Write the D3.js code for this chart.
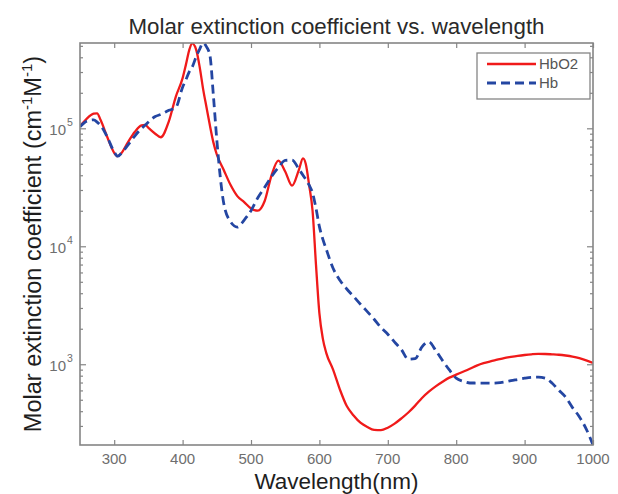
<!DOCTYPE html>
<html>
<head>
<meta charset="utf-8">
<script src="https://cdn.jsdelivr.net/npm/d3@7"></script>
<style>
  body { margin: 0; background: #fff; }
  svg { display: block; font-family: "Liberation Sans", Arial, sans-serif; }
</style>
</head>
<body>
<svg id="chart" width="618" height="494"></svg>
<script>
// wavelengths (nm) shared by both series
var wavelength = [250,260,270,275,280,290,300,305,310,320,330,340,345,350,360,368,380,390,400,405,410,414,420,425,430,435,440,445,450,460,470,480,490,500,510,520,530,540,550,560,570,576,580,585,590,595,600,605,610,620,630,640,650,660,670,680,690,700,710,720,730,740,750,760,770,780,790,800,810,820,830,840,850,860,870,880,890,900,910,920,930,940,950,960,970,980,990,1000];

// HbO2 molar extinction (cm-1 M-1)
var hbo2 = [104000,121000,133000,134000,118000,84000,62000,58000,61000,76000,93000,106000,107000,101000,90000,84000,115000,185000,266232,350000,466816,524280,460000,330000,215000,150000,105000,76000,60000,44480,33209,26629,23684,20932,20035,24202,39956,53236,43016,32613,44496,55540,50104,33000,20000,7000,2700,1650,1250,900,610,442,368,319.6,294,277.6,276,290,314,348,390,446,518,586,650,710,770,816,864,916,974,1022,1058,1092,1128,1154,1178,1198,1214,1224,1222,1214,1204,1186,1162,1128,1080,1024];

// Hb molar extinction (cm-1 M-1)
var hb = [103000,115000,118000,113000,106000,84000,63000,58000,61000,72000,86000,100000,106000,113000,126000,131000,142000,150000,223296,260000,303956,330000,407560,470000,528600,490000,413280,190000,80000,23388.8,16156.4,14550,16684,20035.2,25773.6,31589.6,39036.4,46592,53412,53788,45072,40000,37020,33000,28324.4,21000,14677.2,11500,9443.6,6509.6,5148.8,4345.2,3750.12,3226.56,2795.12,2407.92,2051.96,1794.28,1540.48,1325.88,1102.2,1115.88,1405.24,1548.52,1311.88,1075.44,894.56,761.72,717.08,693.76,693.04,692.36,691.32,694.32,705.84,726.44,743.6,761.84,774.56,777.36,763.84,693.44,602.24,525.56,429.32,359.656,283.22,206.784];

var xTicks = [300,400,500,600,700,800,900,1000];
var yMajor = [1000,10000,100000];
var yExp = ["3","4","5"];
var yMinor = [300,400,500,600,700,800,900,2000,3000,4000,5000,6000,7000,8000,9000,
              20000,30000,40000,50000,60000,70000,80000,90000,200000,300000,400000,500000];
var seriesNames = ["HbO2","Hb"];

var svg = d3.select("#chart");
var pLeft = 80, pRight = 593, pTop = 43, pBottom = 445;
var axisColor = "#858585";

var x = d3.scaleLinear().domain([250,1000]).range([pLeft,pRight]);
var y = d3.scaleLog().domain([206.784,528600]).range([pBottom,pTop]);

// title
svg.append("text")
  .attr("x",(pLeft+pRight)/2).attr("y",34)
  .attr("text-anchor","middle")
  .attr("font-size","22.3px")
  .attr("fill","#2a2a2a")
  .text("Molar extinction coefficient vs. wavelength");

// clip for curves
svg.append("defs").append("clipPath").attr("id","plotclip")
  .append("rect").attr("x",pLeft).attr("y",pTop).attr("width",pRight-pLeft).attr("height",pBottom-pTop);

var redData = wavelength.map(function(w,i){ return [w,hbo2[i]]; });
var blueData = wavelength.map(function(w,i){ return [w,hb[i]]; });

var line = d3.line()
  .x(function(d){ return x(d[0]); })
  .y(function(d){ return y(d[1]); })
  .curve(d3.curveMonotoneX);

var plots = svg.append("g").attr("clip-path","url(#plotclip)");
plots.append("path").datum(redData)
  .attr("d",line).attr("fill","none")
  .attr("stroke","#f01a1a").attr("stroke-width",2.3);
plots.append("path").datum(blueData)
  .attr("d",line).attr("fill","none")
  .attr("stroke","#2446a2").attr("stroke-width",2.8)
  .attr("stroke-dasharray","9,5");

// axes (ticks point inward like matlab)
function noDomain(g){ g.select(".domain").remove(); }
svg.append("g").attr("transform","translate(0,"+pBottom+")")
  .call(d3.axisBottom(x).tickValues(xTicks).tickSize(-5).tickFormat("")).call(noDomain);
svg.append("g").attr("transform","translate(0,"+pTop+")")
  .call(d3.axisTop(x).tickValues(xTicks).tickSize(-5).tickFormat("")).call(noDomain);

svg.append("g").attr("transform","translate("+pLeft+",0)")
  .call(d3.axisLeft(y).tickValues(yMinor).tickSize(-3).tickFormat("")).call(noDomain);
svg.append("g").attr("transform","translate("+pLeft+",0)")
  .call(d3.axisLeft(y).tickValues(yMajor).tickSize(-6).tickFormat("")).call(noDomain);
svg.append("g").attr("transform","translate("+pRight+",0)")
  .call(d3.axisRight(y).tickValues(yMinor).tickSize(-3).tickFormat("")).call(noDomain);
svg.append("g").attr("transform","translate("+pRight+",0)")
  .call(d3.axisRight(y).tickValues(yMajor).tickSize(-6).tickFormat("")).call(noDomain);

svg.selectAll(".tick line").attr("stroke",axisColor).attr("stroke-width",1.2);

// box
svg.append("rect")
  .attr("x",pLeft).attr("y",pTop).attr("width",pRight-pLeft).attr("height",pBottom-pTop)
  .attr("fill","none").attr("stroke",axisColor).attr("stroke-width",1.6);

// x tick labels
svg.append("g").selectAll("text").data(xTicks).join("text")
  .attr("x",function(d){ return x(d); })
  .attr("y",pBottom+19)
  .attr("text-anchor","middle")
  .attr("font-size","15px")
  .attr("fill","#6e6e6e")
  .text(function(d){ return d; });

// y tick labels 10^n
var yl = svg.append("g").selectAll("g").data(yMajor).join("g");
yl.append("text")
  .attr("x",pLeft-14).attr("y",function(d){ return y(d)+7; })
  .attr("text-anchor","end")
  .attr("font-size","15px")
  .attr("fill","#6e6e6e")
  .text("10");
yl.append("text")
  .attr("x",pLeft-13).attr("y",function(d){ return y(d)-2; })
  .attr("font-size","10.5px")
  .attr("fill","#6e6e6e")
  .text(function(d,i){ return yExp[i]; });

// axis labels
svg.append("text")
  .attr("x",(pLeft+pRight)/2).attr("y",489)
  .attr("text-anchor","middle")
  .attr("font-size","22.5px")
  .attr("fill","#1e1e1e")
  .text("Wavelength(nm)");

var ylab = svg.append("text")
  .attr("transform","translate(41,"+((pTop+pBottom)/2)+") rotate(-90)")
  .attr("text-anchor","middle")
  .attr("font-size","23.5px")
  .attr("fill","#1e1e1e");
ylab.append("tspan").text("Molar extinction coefficient (cm");
ylab.append("tspan").attr("font-size","15px").attr("dy",-9).text("-1");
ylab.append("tspan").attr("dy",9).text("M");
ylab.append("tspan").attr("font-size","15px").attr("dy",-9).text("-1");
ylab.append("tspan").attr("dy",9).text(")");

// legend
var lg = svg.append("g");
lg.append("rect")
  .attr("x",477).attr("y",53).attr("width",113).attr("height",46)
  .attr("fill","#fff").attr("stroke",axisColor).attr("stroke-width",1.3);
var legendItems = [
  {name: seriesNames[0], color: "#f01a1a", width: 2.3, dash: null},
  {name: seriesNames[1], color: "#2446a2", width: 2.8, dash: "9,5"}
];
legendItems.forEach(function(it,i){
  var yy = 64 + i*19;
  lg.append("line")
    .attr("x1",487).attr("x2",536).attr("y1",yy).attr("y2",yy)
    .attr("stroke",it.color).attr("stroke-width",it.width)
    .attr("stroke-dasharray",it.dash);
  lg.append("text")
    .attr("x",539).attr("y",yy+5)
    .attr("font-size","15px")
    .attr("fill","#555")
    .text(it.name);
});
</script>
</body>
</html>
